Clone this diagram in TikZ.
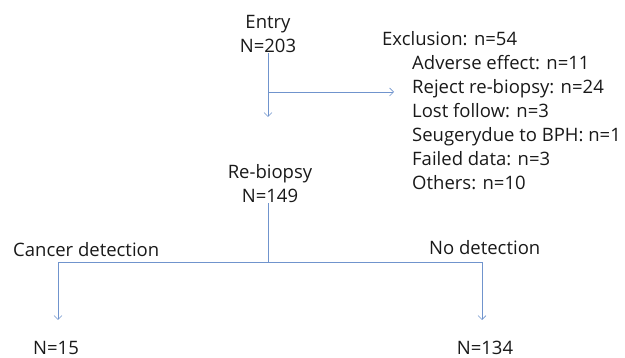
\documentclass[tikz,border=0pt]{standalone}
\usepackage{fontspec}
\setmainfont{Open Sans}
\usepackage{xcolor}
\usepackage{tikz}
\usetikzlibrary{arrows,arrows.meta,positioning,calc}
\definecolor{flowline}{RGB}{112,148,205}
\definecolor{flowtext}{RGB}{25,25,25}

\begin{document}
\begin{tikzpicture}[x=1pt, y=-1pt,
    >={Straight Barb[length=4pt,width=8pt,line width=0.7pt]},
    lbl/.style={inner sep=0pt, text=flowtext, font=\fontsize{18.5}{24}\selectfont},
    flow/.style={draw=flowline, line width=0.8pt}]
    \useasboundingbox (0,0) rectangle (625,358);

    % Top box and exclusion list
    \node[lbl, align=center, anchor=base] (entry) at (268,53) {Entry\\N=203};
    \node[lbl, align=left, anchor=base west] (excl) at (382,190)
        {Exclusion: n=54\\
         \hspace*{30pt}Adverse effect: n=11\\
         \hspace*{30pt}Reject re-biopsy: n=24\\
         \hspace*{30pt}Lost follow: n=3\\
         \hspace*{30pt}Seugerydue to BPH: n=1\\
         \hspace*{30pt}Failed data: n=3\\
         \hspace*{30pt}Others: n=10};
    \coordinate (entryend) at (268,117);
    \coordinate (split) at (268,92);
    \coordinate (exclin) at (394,92);
    \draw[flow, ->] (entry.south) -- (entryend);
    \draw[flow, ->] (split) -- (exclin);

    % Re-biopsy and the two branches
    \node[lbl, align=center, anchor=base] (rebiopsy) at (270,203) {Re-biopsy\\N=149};
    \node[lbl, anchor=base west] (cancer) at (13,257) {Cancer detection};
    \node[lbl, anchor=base west] (nodetect) at (429,255) {No detection};
    \node[lbl, anchor=base] (npos) at (56,355) {N=15};
    \node[lbl, anchor=base] (nneg) at (485,355) {N=134};
    \coordinate (fork) at (268,262);
    \coordinate (posend) at (58,320);
    \coordinate (negend) at (482,320);
    \draw[flow] (rebiopsy.south -| fork) -- (fork);
    \draw[flow, ->] (fork) -- (fork -| posend) -- (posend);
    \draw[flow, ->] (fork) -- (fork -| negend) -- (negend);
\end{tikzpicture}
\end{document}
